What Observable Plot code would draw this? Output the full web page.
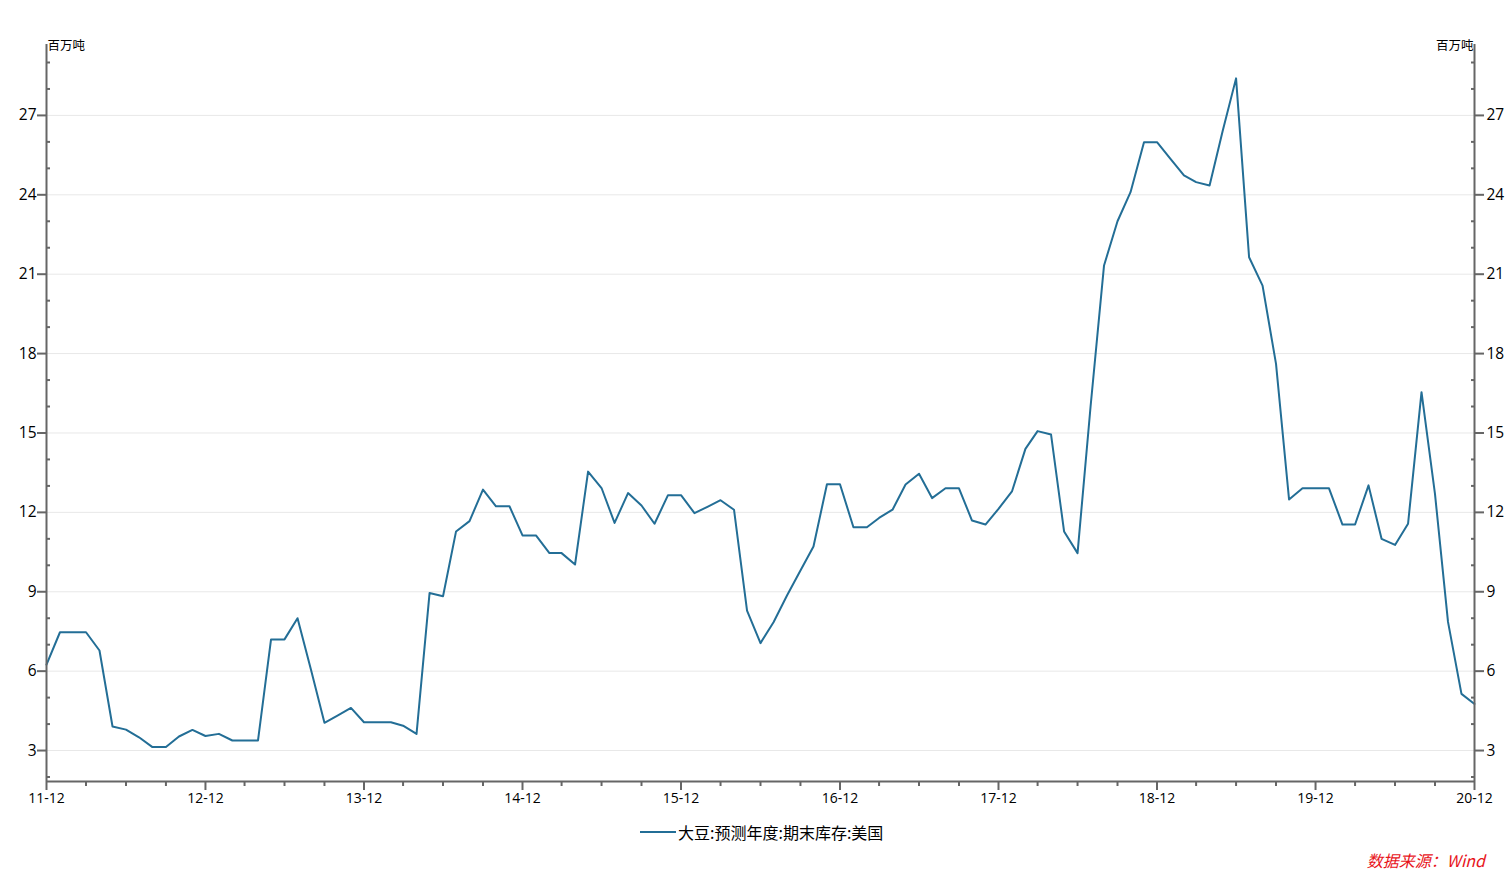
<!DOCTYPE html>
<html>
<head>
<meta charset="utf-8">
<script src="https://cdn.jsdelivr.net/npm/d3@7"></script>
<script src="https://cdn.jsdelivr.net/npm/@observablehq/plot@0.6"></script>
<style>
  body { margin: 0; background: #fff; }
  #wrap { position: relative; width: 1511px; height: 871px; font-family: "Open Sans", "Noto Sans CJK SC", sans-serif; }
  #legend { position: absolute; left: 640px; top: 821px; height: 22px; display: flex; align-items: center; font-family: "Noto Sans CJK SC", sans-serif; font-size: 16px; color: #000; }
  #legend .sw { width: 36px; height: 2px; margin-right: 2px; }
  #caption { position: absolute; right: 26px; top: 848px; font-family: "Noto Sans CJK SC", sans-serif; font-size: 16px; font-style: italic; color: #e8141b; }
</style>
</head>
<body>
<div id="wrap">
  <div id="chart"></div>
  <div id="legend"><span class="sw"></span><span class="lt"></span></div>
  <div id="caption"></div>
</div>
<script>
// ---- data ----
const startYear = 2011, startMonth = 12;          // first month: 2011-12
const values = [
  6.25, 7.47, 7.47, 7.47, 6.78, 3.91, 3.79, 3.50, 3.13, 3.13,
  3.53, 3.78, 3.55, 3.63, 3.38, 3.38, 3.38, 7.20, 7.20, 8.00,
  6.05, 4.05, 4.32, 4.61, 4.07, 4.07, 4.07, 3.94, 3.63, 8.95,
  8.83, 11.28, 11.67, 12.86, 12.23, 12.23, 11.13, 11.13, 10.46, 10.46,
  10.03, 13.54, 12.92, 11.60, 12.73, 12.26, 11.57, 12.65, 12.65, 11.97,
  12.22, 12.46, 12.10, 8.29, 7.06, 7.85, 8.86, 9.80, 10.71, 13.06,
  13.06, 11.44, 11.44, 11.79, 12.10, 13.05, 13.46, 12.54, 12.91, 12.91,
  11.69, 11.54, 12.13, 12.79, 14.40, 15.07, 14.94, 11.28, 10.46, 16.00,
  21.33, 23.00, 24.10, 25.99, 25.99, 25.36, 24.73, 24.48, 24.35, 26.40,
  28.40, 21.64, 20.57, 17.61, 12.49, 12.91, 12.91, 12.91, 11.54, 11.54,
  13.02, 11.00, 10.77, 11.57, 16.54, 12.70, 7.86, 5.14, 4.76
];
const yMajorTicks = [3, 6, 9, 12, 15, 18, 21, 24, 27];
const yDomain = [1.83, 29.68];
const unitLabel = "百万吨";
const seriesName = "大豆:预测年度:期末库存:美国";
const sourceText = "数据来源：Wind";
const lineColor = "#236e96";
const axisColor = "#666666";

// ---- build ----
const start = new Date(Date.UTC(startYear, startMonth - 1, 1));
const data = values.map((v, i) => ({ date: d3.utcMonth.offset(start, i), value: v }));
const xDomain = [data[0].date, data[data.length - 1].date];
const xMajor = data.filter(d => d.date.getUTCMonth() === 11).map(d => d.date);
const xMinor = data.filter((d, i) => i % 3 === 0 && d.date.getUTCMonth() !== 11).map(d => d.date);
const yMinor = d3.range(2, 30).filter(v => v % 3 !== 0);
const blank = () => "";

const chart = Plot.plot({
  width: 1511,
  height: 812,
  marginTop: 44,
  marginBottom: 31,
  marginLeft: 46,
  marginRight: 37,
  style: { fontFamily: '"Open Sans", "Noto Sans CJK SC", sans-serif', fontSize: "15px", color: "#000", background: "#fff" },
  x: { type: "utc", domain: xDomain },
  y: { domain: yDomain },
  marks: [
    Plot.gridY(yMajorTicks, { stroke: "#e8e8e8", strokeOpacity: 1, strokeWidth: 1 }),
    Plot.lineY(data, { x: "date", y: "value", stroke: lineColor, strokeWidth: 2 }),
    Plot.ruleX(xDomain, { stroke: axisColor, strokeWidth: 2 }),
    Plot.ruleY([yDomain[0]], { stroke: axisColor, strokeWidth: 2 }),
    Plot.axisY(yMajorTicks, { anchor: "left", tickSize: 9, tickPadding: 1, stroke: axisColor, fill: "#000", strokeWidth: 2, fontSize: 15.5, label: null }),
    Plot.axisY(yMinor, { anchor: "left", tickSize: 4, dx: 4, stroke: axisColor, strokeWidth: 2, tickFormat: blank, label: null }),
    Plot.axisY(yMajorTicks, { anchor: "right", tickSize: 9, tickPadding: 3, stroke: axisColor, fill: "#000", strokeWidth: 2, fontSize: 15.5, label: null }),
    Plot.axisY(yMinor, { anchor: "right", tickSize: 4, dx: -4, stroke: axisColor, strokeWidth: 2, tickFormat: blank, label: null }),
    Plot.axisX(xMajor, { anchor: "bottom", tickSize: 9, tickPadding: 3, stroke: axisColor, fill: "#000", strokeWidth: 2, fontSize: 14, tickFormat: d3.utcFormat("%y-%m"), label: null }),
    Plot.axisX(xMinor, { anchor: "bottom", tickSize: 5, stroke: axisColor, strokeWidth: 2, tickFormat: blank, label: null }),
    Plot.text([unitLabel], { text: d => d, frameAnchor: "top-left", textAnchor: "start", lineAnchor: "middle", dx: 1, dy: 1, fontSize: 12.5, fill: "#000", fontFamily: '"Noto Sans CJK SC", sans-serif' }),
    Plot.text([unitLabel], { text: d => d, frameAnchor: "top-right", textAnchor: "end", lineAnchor: "middle", dx: -1, dy: 1, fontSize: 12.5, fill: "#000", fontFamily: '"Noto Sans CJK SC", sans-serif' })
  ]
});
document.getElementById("chart").appendChild(chart);
document.querySelector("#legend .sw").style.background = lineColor;
document.querySelector("#legend .lt").textContent = seriesName;
document.getElementById("caption").textContent = sourceText;
</script>
</body>
</html>
